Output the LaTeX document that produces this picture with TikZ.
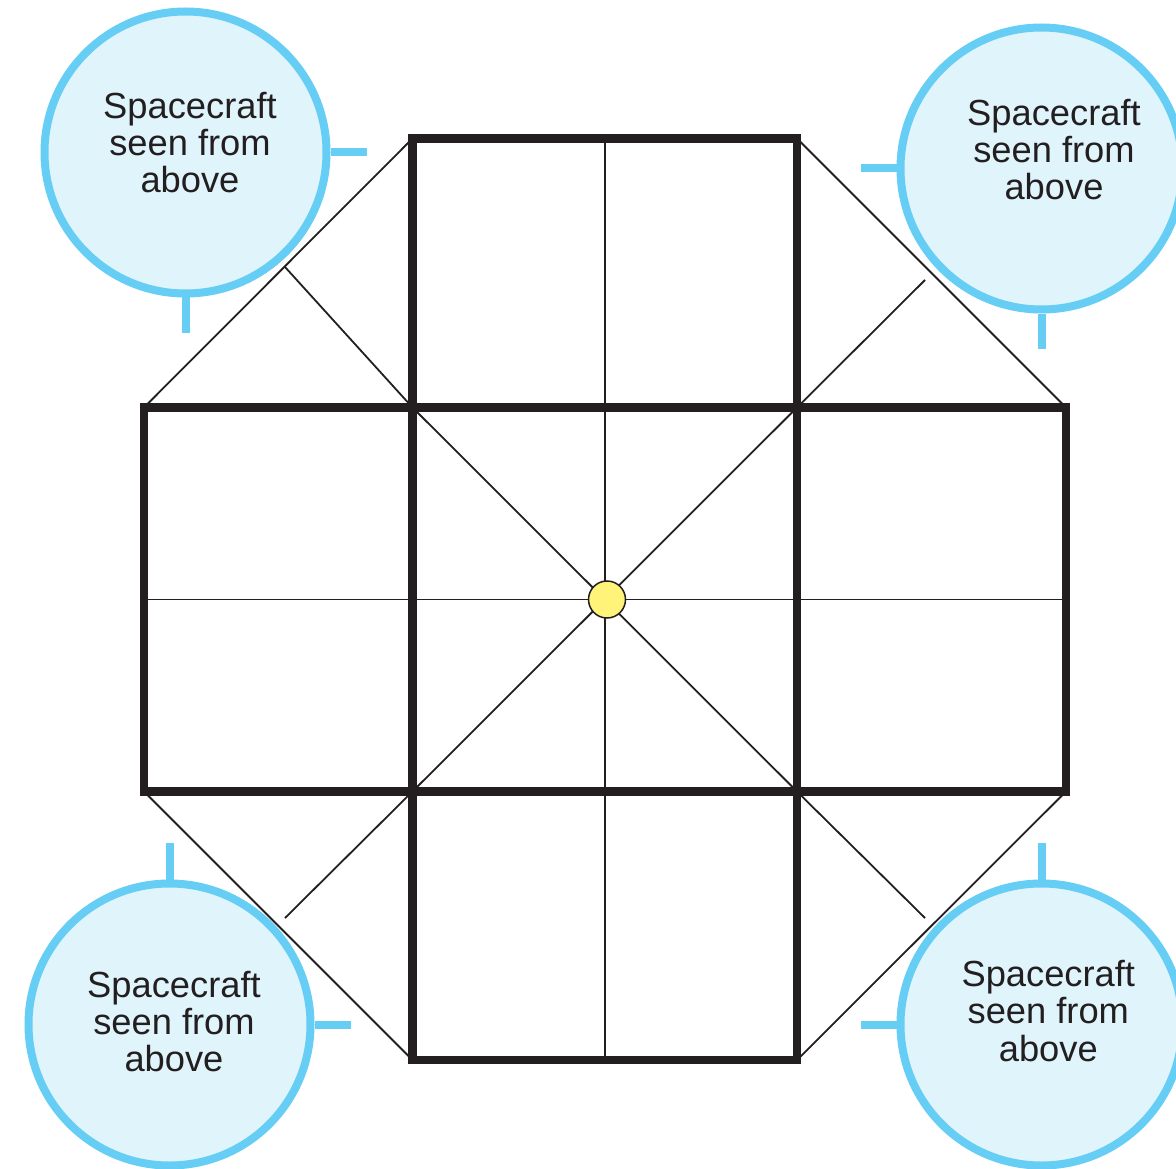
\documentclass[tikz,border=0pt]{standalone}
\usepackage{fontspec}
\setmainfont{Liberation Sans}
\definecolor{ink}{HTML}{231F20}
\definecolor{ringblue}{HTML}{66CDF4}
\definecolor{fillblue}{HTML}{E0F4FC}
\definecolor{dotyellow}{HTML}{FFF37A}
\tikzset{
  frame/.style={line width=8.5pt, draw=ink, line join=miter},
  thinline/.style={line width=1.8pt, draw=ink},
  bubble/.style={circle, draw=ringblue, fill=fillblue, line width=8pt, minimum size=282pt, inner sep=0pt},
  tickmark/.style={draw=ringblue, line width=8pt},
  captext/.style={font=\fontsize{36.3}{37.1}\selectfont, text=ink, align=center, anchor=base, inner sep=0pt},
  hub/.style={circle, draw=ink, fill=dotyellow, line width=1.5pt, minimum size=37pt, inner sep=0pt}
}
\begin{document}
\begin{tikzpicture}[x=1pt,y=-1pt]
\useasboundingbox (0,0) rectangle (1176,1169);
\clip (0,0) rectangle (1176,1169);
% grid coordinates
\coordinate (x0y1) at (144,407.5);
\coordinate (x0y2) at (144,791.5);
\coordinate (x1y0) at (412.5,138.5);
\coordinate (x1y1) at (412.5,407.5);
\coordinate (x1y2) at (412.5,791.5);
\coordinate (x1y3) at (412.5,1060);
\coordinate (x2y0) at (797,138.5);
\coordinate (x2y1) at (797,407.5);
\coordinate (x2y2) at (797,791.5);
\coordinate (x2y3) at (797,1060);
\coordinate (x3y1) at (1066,407.5);
\coordinate (x3y2) at (1066,791.5);
\coordinate (midtop) at (605,138.5);
\coordinate (midbot) at (605,1060);
\coordinate (midleft) at (144,599.5);
\coordinate (midright) at (1066,599.5);
\coordinate (stl) at (285,267);
\coordinate (str) at (925,280);
\coordinate (sbl) at (285,918);
\coordinate (sbr) at (925,918);

% bubbles
\node[bubble] (ctl) at (185.5,152.5) {};
\node[bubble] (ctr) at (1041.5,168.5) {};
\node[bubble] (cbl) at (169.5,1024.5) {};
\node[bubble] (cbr) at (1041.5,1024.5) {};
\coordinate (ttl1) at (367,152.5);
\coordinate (ttl2) at (185.5,333);
\coordinate (ttr1) at (861,168.5);
\coordinate (ttr2) at (1041.5,349);
\coordinate (tbl1) at (169.5,843);
\coordinate (tbl2) at (351,1024.5);
\coordinate (tbr1) at (1041.5,843);
\coordinate (tbr2) at (861,1024.5);
\draw[tickmark] (ctl.east) -- (ttl1);
\draw[tickmark] (ctl.south) -- (ttl2);
\draw[tickmark] (ctr.west) -- (ttr1);
\draw[tickmark] (ctr.south) -- (ttr2);
\draw[tickmark] (cbl.north) -- (tbl1);
\draw[tickmark] (cbl.east) -- (tbl2);
\draw[tickmark] (cbr.north) -- (tbr1);
\draw[tickmark] (cbr.west) -- (tbr2);

% captions (anchor base = baseline of last line)
\node[captext] (ttl) at (190,192.7) {Spacecraft\\seen from\\above};
\node[captext] (ttr) at (1054,200) {Spacecraft\\seen from\\above};
\node[captext] (tbl) at (174,1071.7) {Spacecraft\\seen from\\above};
\node[captext] (tbr) at (1048.3,1061) {Spacecraft\\seen from\\above};

% thin lines
\draw[thinline] (midtop) -- (midbot);
\draw[thinline] (midleft) -- (midright);
\draw[thinline] (x1y1) -- (x2y2);
\draw[thinline] (x2y1) -- (x1y2);
\draw[thinline] (x1y0) -- (x0y1);
\draw[thinline] (x2y0) -- (x3y1);
\draw[thinline] (x0y2) -- (x1y3);
\draw[thinline] (x3y2) -- (x2y3);
\draw[thinline] (x1y1) -- (stl);
\draw[thinline] (x2y1) -- (str);
\draw[thinline] (x1y2) -- (sbl);
\draw[thinline] (x2y2) -- (sbr);

% thick frames
\draw[frame] (x1y0) rectangle (x2y1);
\draw[frame] (x0y1) rectangle (x1y2);
\draw[frame] (x1y1) rectangle (x2y2);
\draw[frame] (x2y1) rectangle (x3y2);
\draw[frame] (x1y2) rectangle (x2y3);

% centre dot
\node[hub] (sun) at (607,599.5) {};
\end{tikzpicture}
\end{document}
